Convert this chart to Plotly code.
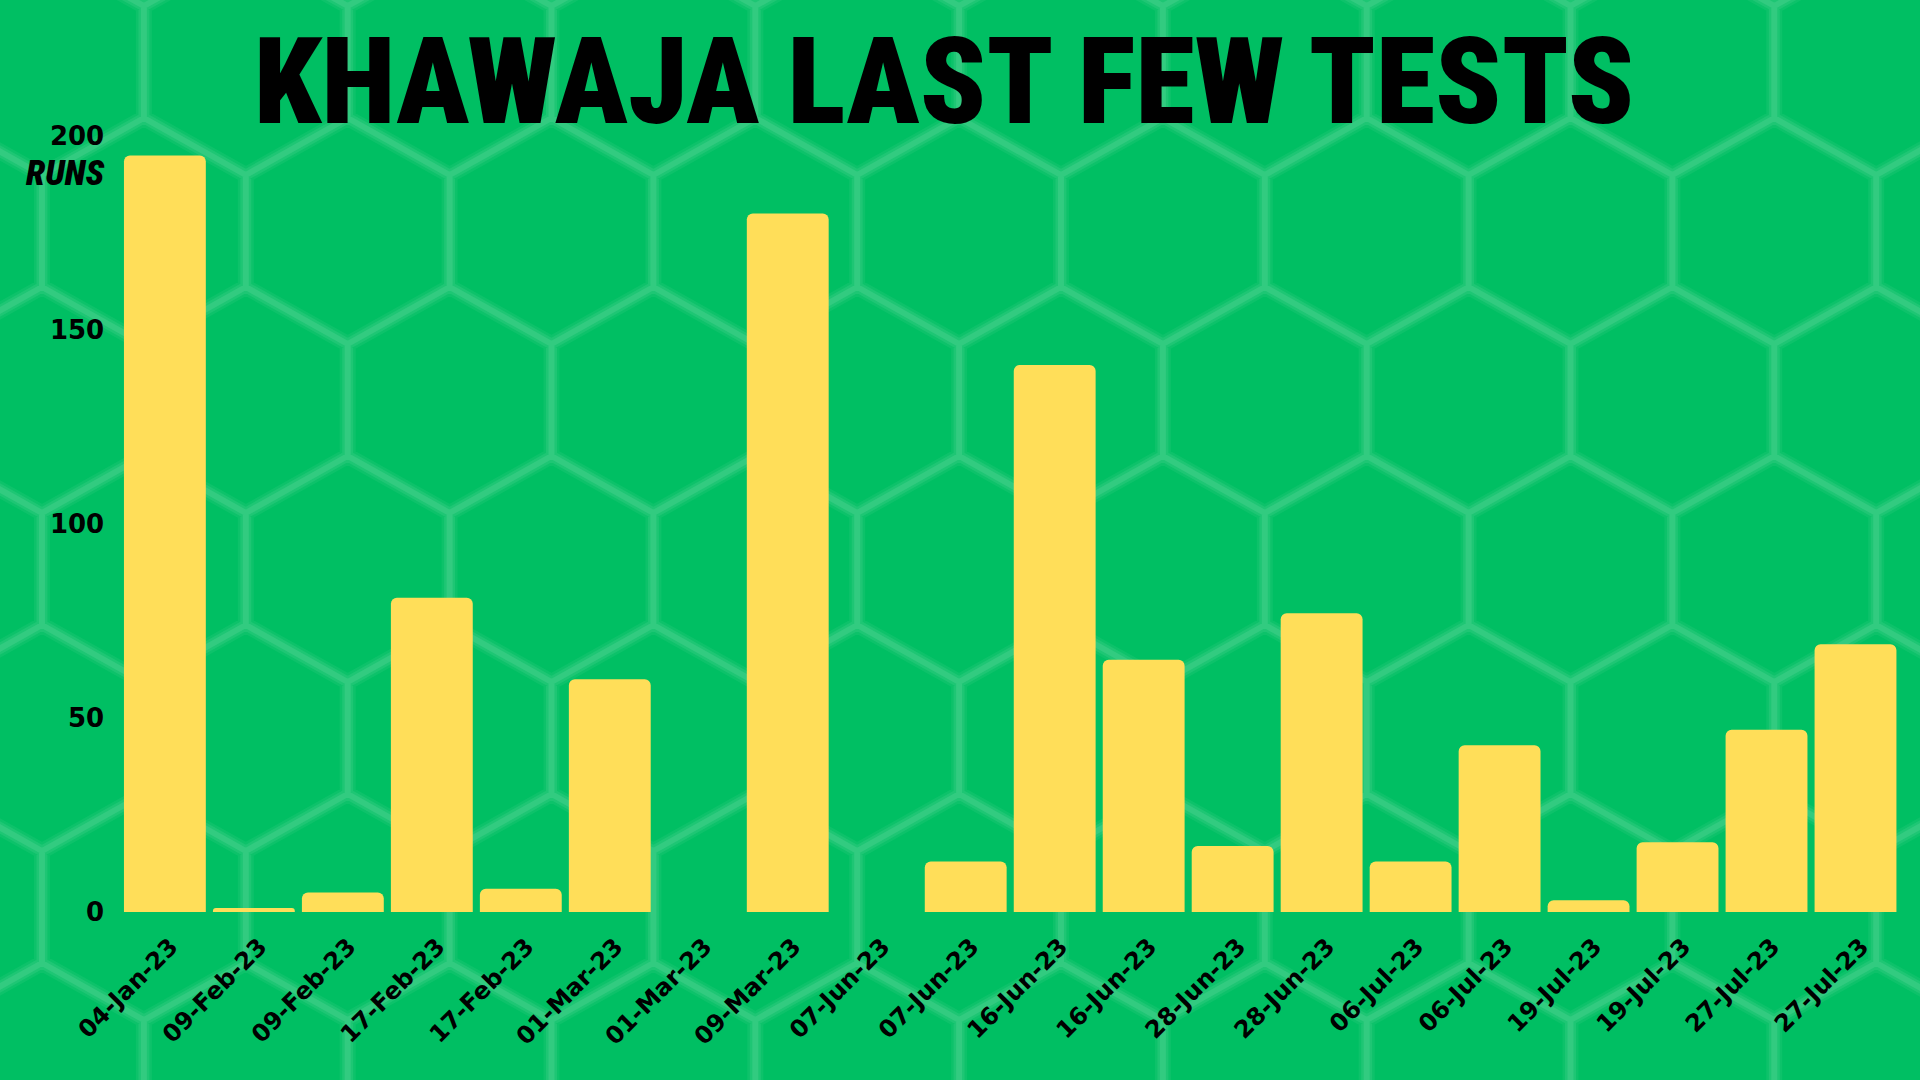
import plotly.graph_objects as go

# ---- data ----
match_dates = ["04-Jan-23", "09-Feb-23", "09-Feb-23", "17-Feb-23", "17-Feb-23",
               "01-Mar-23", "01-Mar-23", "09-Mar-23", "07-Jun-23", "07-Jun-23",
               "16-Jun-23", "16-Jun-23", "28-Jun-23", "28-Jun-23", "06-Jul-23",
               "06-Jul-23", "19-Jul-23", "19-Jul-23", "27-Jul-23", "27-Jul-23"]
runs = [195, 1, 5, 81, 6, 60, 0, 180, 0, 13, 141, 65, 17, 77, 13, 43, 3, 18, 47, 69]
y_ticks = [0, 50, 100, 150, 200]

W, H = 1920, 1080
BG = "#00BF63"
BAR = "#FFDE59"

positions = list(range(len(runs)))

fig = go.Figure()
fig.add_trace(go.Bar(
    x=positions, y=runs,
    marker=dict(color=BAR, line=dict(width=0), cornerradius=6),
    hoverinfo="x+y",
))

# ---- hexagon background decoration (paper coordinates) ----
hex_w = 203.8
x0 = 42.0
y0 = 175.0
vert = 112.0
rise = 57.0
period = vert + rise

def px(x):
    return x / W

def py(y):
    return 1 - y / H

segs = []
for r in range(-2, 8):
    yt = y0 + r * period
    offs = 0.0 if r % 2 == 0 else hex_w / 2
    for k in range(-2, 12):
        x = x0 + offs + k * hex_w
        yb = yt + vert
        segs.append(f"M{px(x):.5f},{py(yt):.5f}L{px(x):.5f},{py(yb):.5f}")
        segs.append(f"M{px(x):.5f},{py(yb):.5f}L{px(x - hex_w/2):.5f},{py(yb + rise):.5f}")
        segs.append(f"M{px(x):.5f},{py(yb):.5f}L{px(x + hex_w/2):.5f},{py(yb + rise):.5f}")
path = "".join(segs)

shapes = [
    dict(type="path", path=path, xref="paper", yref="paper", layer="below",
         line=dict(color="rgba(255,255,255,0.05)", width=16)),
    dict(type="path", path=path, xref="paper", yref="paper", layer="below",
         line=dict(color="rgba(255,255,255,0.07)", width=11)),
    dict(type="path", path=path, xref="paper", yref="paper", layer="below",
         line=dict(color="rgba(255,255,255,0.09)", width=6)),
]

plot_left, plot_right = 120.4, 1900.0
plot_top, plot_bottom = 136.0, 912.0

tick_family = "DejaVu Sans, sans-serif"

fig.update_layout(
    width=W, height=H,
    autosize=False,
    margin=dict(l=0, r=0, t=0, b=0, pad=0, autoexpand=False),
    paper_bgcolor=BG,
    plot_bgcolor="rgba(0,0,0,0)",
    showlegend=False,
    bargap=0.08,
    shapes=shapes,
    xaxis=dict(
        domain=[plot_left / W, plot_right / W],
        range=[-0.5, len(runs) - 0.5],
        automargin=False,
        tickmode="array", tickvals=positions, ticktext=match_dates,
        tickangle=-45,
        tickfont=dict(family=tick_family, size=24, color="#000000", weight="bold"),
        ticks="outside", ticklen=10, tickcolor="rgba(0,0,0,0)",
        ticklabelshift=6,
        showgrid=False, zeroline=False, showline=False,
    ),
    yaxis=dict(
        domain=[1 - plot_bottom / H, 1 - plot_top / H],
        range=[0, 200],
        automargin=False,
        tickmode="array", tickvals=y_ticks,
        tickfont=dict(family=tick_family, size=26, color="#000000", weight="bold"),
        ticks="outside", ticklen=10, tickcolor="rgba(0,0,0,0)",
        showgrid=False, zeroline=False, showline=False,
    ),
    annotations=[
        dict(text="KHAWAJA LAST FEW TESTS", xref="paper", yref="paper",
             x=944 / W, y=1 - 82 / H,
             xanchor="center", yanchor="middle",
             showarrow=False,
             font=dict(family="Roboto Condensed, Liberation Sans Narrow, Liberation Sans, sans-serif",
                       size=121, color="#000000", weight=900)),
        dict(text="RUNS", xref="paper", yref="paper",
             x=107 / W, y=1 - 173 / H, xanchor="right", yanchor="middle",
             showarrow=False,
             font=dict(family="Roboto Condensed, Liberation Sans Narrow, Liberation Sans, sans-serif",
                       size=35, color="#000000", weight=900, style="italic")),
    ],
)

fig.write_html(
    "out.html",
    config={"displayModeBar": False},
    post_script="document.body.style.margin='0';document.body.style.padding='0';"
                "document.documentElement.style.overflow='hidden';",
)
